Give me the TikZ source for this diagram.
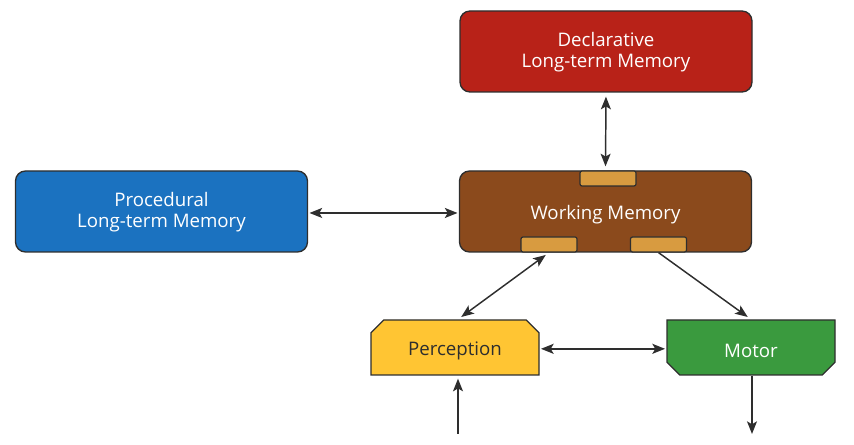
\documentclass[tikz,border=0pt]{standalone}
\usepackage{fontspec}
\setmainfont{Open Sans}
\usetikzlibrary{shapes.misc,arrows.meta}
\definecolor{cred}{HTML}{B82218}
\definecolor{cblue}{HTML}{1B72C0}
\definecolor{cbrown}{HTML}{8B4A1C}
\definecolor{ctab}{HTML}{D89B40}
\definecolor{cyel}{HTML}{FFC533}
\definecolor{cgreen}{HTML}{3A9A3E}
\definecolor{cline}{HTML}{2E2E2E}
\newcommand{\lowtext}[2]{\raisebox{0pt}[\dimexpr\height+#1\relax]{#2}}
\newcommand{\twolines}[2]{\lowtext{2pt}{\begin{tabular}{@{}c@{}}#1\\#2\end{tabular}}}
\begin{document}
\begin{tikzpicture}[x=0.75pt,y=-0.75pt,
  box/.style={draw=cline,line width=1pt,rounded corners=7.5pt,minimum width=219pt,minimum height=60.75pt,inner sep=0pt,align=center,font=\fontsize{14}{16}\selectfont,text=white},
  tabbox/.style={draw=cline,line width=0.9pt,rounded corners=1.5pt,fill=ctab,minimum width=42pt,minimum height=11.25pt,inner sep=0pt},
  iobox/.style={chamfered rectangle,chamfered rectangle xsep=6pt,draw=cline,line width=1pt,minimum width=126pt,minimum height=41.25pt,inner sep=0pt,font=\fontsize{14}{16}\selectfont},
  tip/.tip={Stealth[length=9.5pt,width=7.5pt,inset=2.2pt]},
  conn/.style={draw=cline,line width=1.1pt,-tip},
  biconn/.style={draw=cline,line width=1.1pt,tip-tip}
]
\useasboundingbox (0,0) rectangle (854,445);
\node[box,fill=cred] (decl) at (606,51.5) {\twolines{Declarative}{Long-term Memory}};
\node[box,fill=cblue] (proc) at (161.5,211.5) {\twolines{Procedural}{Long-term Memory}};
\node[box,fill=cbrown] (wm) at (605.5,211.5) {\lowtext{4.5pt}{Working Memory}};
\node[tabbox] (tt) at (608,178.5) {};
\node[tabbox] (tl) at (549,244.5) {};
\node[tabbox] (tr) at (658.5,244.5) {};
\node[iobox,chamfered rectangle corners={north west,north east},fill=cyel,text=cline] (perc) at (455,347.5) {\lowtext{4.5pt}{Perception}};
\node[iobox,chamfered rectangle corners={south west,south east},fill=cgreen,text=white] (mot) at (751,347.5) {\lowtext{4.5pt}{Motor}};
\coordinate (pin) at (458,434);
\coordinate (mout) at (752,434);
\draw[biconn,shorten <=3pt,shorten >=3pt] (decl.south) -- (wm.north);
\draw[biconn,shorten <=1pt,shorten >=1pt] ([yshift=-1.1pt]proc.east) -- ([yshift=-1.1pt]wm.west);
\draw[biconn,shorten <=3pt,shorten >=3pt] (tl.south) -- ([xshift=2.25pt]perc.north);
\draw[conn,shorten >=3pt] (tr.south) -- (mot.north);
\draw[biconn,shorten <=1pt,shorten >=1pt] ([yshift=-1pt]perc.east) -- ([yshift=-1pt]mot.west);
\draw[conn,shorten >=2.25pt] (pin) -- (pin |- perc.south);
\draw[conn] ([xshift=0.75pt]mot.south) -- (mout);
\end{tikzpicture}
\end{document}
